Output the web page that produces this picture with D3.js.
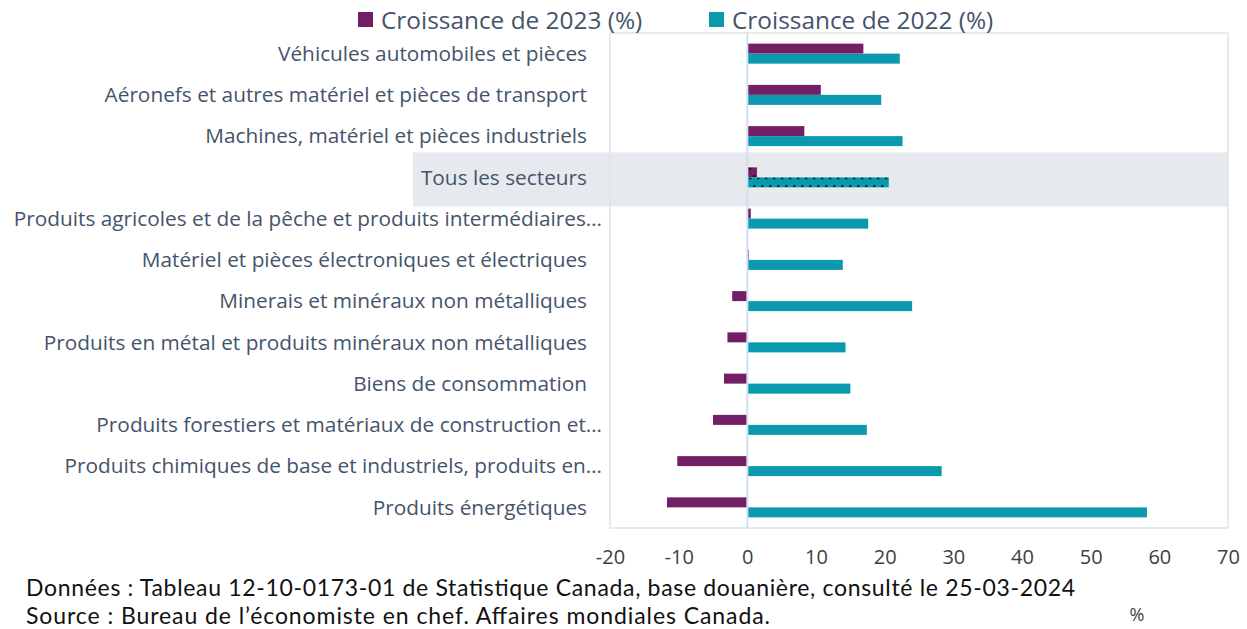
<!DOCTYPE html>
<html><head><meta charset="utf-8">
<script src="https://cdn.jsdelivr.net/npm/d3@7"></script>
<style>body{margin:0;background:#fff}svg{display:block}</style>
</head><body>
<script>
const categories = [
  "Véhicules automobiles et pièces",
  "Aéronefs et autres matériel et pièces de transport",
  "Machines, matériel et pièces industriels",
  "Tous les secteurs",
  "Produits agricoles et de la pêche et produits intermédiaires…",
  "Matériel et pièces électroniques et électriques",
  "Minerais et minéraux non métalliques",
  "Produits en métal et produits minéraux non métalliques",
  "Biens de consommation",
  "Produits forestiers et matériaux de construction et…",
  "Produits chimiques de base et industriels, produits en…",
  "Produits énergétiques"
];
const growth2023 = [16.9, 10.7, 8.3, 1.4, 0.5, 0.2, -2.2, -2.9, -3.4, -5.0, -10.2, -11.7];
const growth2022 = [22.2, 19.5, 22.6, 20.6, 17.6, 13.9, 24.0, 14.3, 15.0, 17.4, 28.3, 58.2];
const seriesNames = ["Croissance de 2023 (%)", "Croissance de 2022 (%)"];
const xTicks = [-20, -10, 0, 10, 20, 30, 40, 50, 60, 70];
const highlight = "Tous les secteurs";
const footer = [
  "Données : Tableau 12-10-0173-01 de Statistique Canada, base douanière, consulté le 25-03-2024",
  "Source : Bureau de l’économiste en chef. Affaires mondiales Canada."
];
const unitLabel = "%";

const W = 1247, H = 629;
const colors = ["#741E66", "#0B99AE"];
const textColor = "#44546A";
const font = "'Open Sans', Lato, sans-serif";
const plot = {left: 610, right: 1228, top: 33, bottom: 528};

const svg = d3.select("body").append("svg").attr("width", W).attr("height", H);
const defs = svg.append("defs");

const x = d3.scaleLinear().domain([-20, 70]).range([plot.left, plot.right]);
const y = d3.scaleBand().domain(categories).range([plot.top, plot.bottom])
  .paddingInner(0.515).paddingOuter(0.2575);
const ys = d3.scaleBand().domain([0, 1]).range([0, y.bandwidth()]);

colors.forEach((c, i) => {
  const by = y(highlight) + ys(i);
  const p = defs.append("pattern").attr("id", "dots" + i).attr("patternUnits", "userSpaceOnUse")
    .attr("width", 8).attr("height", 15.2)
    .attr("patternTransform", `translate(${x(0)},${by})`);
  p.append("rect").attr("width", 8).attr("height", 15.2).attr("fill", c);
  p.append("rect").attr("x", 2).attr("y", 0.2).attr("width", 1.8).attr("height", 1.8).attr("fill", "#000");
  p.append("rect").attr("x", 6).attr("y", 7.8).attr("width", 1.8).attr("height", 1.8).attr("fill", "#000");
});

// highlight band
const hc = y(highlight) + y.bandwidth() / 2;
svg.append("rect").attr("x", 413).attr("y", hc - 25).attr("width", plot.right - 413)
  .attr("height", 54).attr("fill", "#E6E9EE");

// plot border
svg.append("rect").attr("x", plot.left).attr("y", plot.top)
  .attr("width", plot.right - plot.left).attr("height", plot.bottom - plot.top)
  .attr("fill", "none").attr("stroke", "#E3E3E3").attr("stroke-width", 1.5);

// bars
const series = [growth2023, growth2022];
series.forEach((vals, si) => {
  svg.append("g").selectAll("rect").data(vals).join("rect")
    .attr("x", d => x(Math.min(0, d)))
    .attr("width", d => Math.abs(x(d) - x(0)))
    .attr("y", (d, i) => y(categories[i]) + ys(si))
    .attr("height", ys.bandwidth())
    .attr("fill", (d, i) => categories[i] === highlight ? `url(#dots${si})` : colors[si]);
});

// zero line
svg.append("line").attr("x1", x(0)).attr("x2", x(0)).attr("y1", plot.top).attr("y2", plot.bottom)
  .attr("stroke", "#CFE0F3").attr("stroke-width", 2);

// category labels
svg.append("g").selectAll("text").data(categories).join("text")
  .attr("x", d => d.endsWith("…") ? 602 : 587)
  .attr("y", d => y(d) + y.bandwidth() / 2)
  .attr("dy", "0.35em")
  .attr("text-anchor", "end")
  .attr("font-family", font).attr("font-size", 20.8).attr("fill", textColor)
  .text(d => d);

// x axis
const xAxis = d3.axisBottom(x).tickValues(xTicks).tickSize(0).tickFormat(d3.format("d"));
const ax = svg.append("g").attr("transform", `translate(0,${plot.bottom + 19})`).call(xAxis);
ax.select(".domain").remove();
ax.selectAll("text").attr("font-family", font).attr("font-size", 20).attr("fill", "#404040")
  .text(d => d < 0 ? "-" + Math.abs(d) : d);

// legend
const lg = svg.append("g");
const legX = [358, 709];
seriesNames.forEach((n, i) => {
  lg.append("rect").attr("x", legX[i]).attr("y", 12).attr("width", 15).attr("height", 15).attr("fill", colors[i]);
  lg.append("text").attr("x", legX[i] + 23).attr("y", 20).attr("dy", "0.35em")
    .attr("font-family", font).attr("font-size", 24.4).attr("fill", textColor).text(n);
});

// footer
const footerY = [588, 616];
const footerLen = [1049, 744];
footer.forEach((t, i) => {
  svg.append("text").attr("x", 26).attr("y", footerY[i]).attr("dy", "0.35em")
    .attr("font-family", "Lato, 'Open Sans', sans-serif").attr("font-size", 23)
    .attr("textLength", footerLen[i]).attr("lengthAdjust", "spacing")
    .attr("fill", "#111").text(t);
});
svg.append("text").attr("x", 1137).attr("y", 615).attr("dy", "0.35em").attr("text-anchor", "middle")
  .attr("font-family", font).attr("font-size", 18).attr("fill", "#404040").text(unitLabel);
</script>
</body></html>
